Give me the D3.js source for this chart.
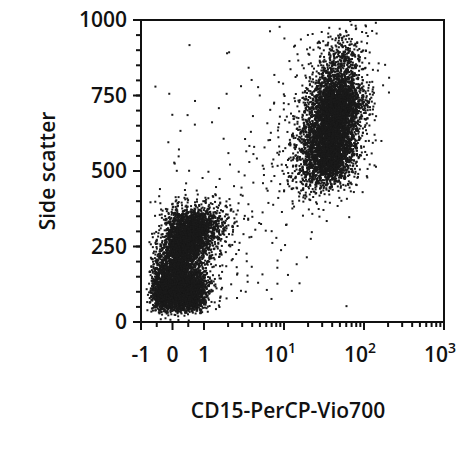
<!DOCTYPE html>
<html lang="en">
<head>
<meta charset="utf-8">
<title>CD15 vs side scatter</title>
<script src="https://d3js.org/d3.v7.min.js"></script>
<style>
  body { margin: 0; background: #fff; }
  text { font-family: "Open Sans", sans-serif; font-weight: 600; fill: #111; }
</style>
</head>
<body>
<script>
// density grid: 20 rows (top = 1000..950) x 20 columns across x range, level 0-9
var densityRows = [
  "00000010010023430000",
  "00100010122456400000",
  "00000010002467510000",
  "00000001123577521000",
  "01000120123688621000",
  "01110101235799720000",
  "00100101235798620000",
  "00110011236898520000",
  "00200122346898510000",
  "01210122346897410000",
  "00111122346776310000",
  "02233222335543100000",
  "04666532222321000000",
  "05898642212110000000",
  "06997532211000000000",
  "07986421111000000000",
  "08975322121000000000",
  "29996322211000000000",
  "49995221100001000000",
  "04530000000000000000"
];
var levelCounts = [0, 1, 2, 3, 8, 18, 40, 100, 220, 450];
var xMajor = [-1, 0, 1, 10, 100, 1000];
var xMinor = [-0.5, 0.5, 2, 3, 4, 5, 6, 7, 8, 9, 20, 30, 40, 50, 60, 70, 80, 90, 200, 300, 400, 500, 600, 700, 800, 900];
var xLabels = [["-1", ""], ["0", ""], ["1", ""], ["10", "1"], ["10", "2"], ["10", "3"]];
var yMajor = [0, 250, 500, 750, 1000];
var yMinor = d3.range(50, 1000, 50);

var W = 474, H = 474;
var pLeft = 141, pRight = 444, pTop = 20, pBottom = 322;

// logicle-like: linear below 1, log above
function f(v) { return v <= 1 ? v : 1 + Math.log10(v) * 80 / 31.5; }
var xT = d3.scaleLinear().domain([f(-1), f(1000)]).range([pLeft, pRight]);
var x = function(v) { return xT(f(v)); };
var y = d3.scaleLinear().domain([0, 1000]).range([pBottom, pTop]);
var col = d3.scaleLinear().domain([0, 20]).range([pLeft, pRight]);
var row = d3.scaleLinear().domain([0, 20]).range([pTop, pBottom]);

function halton(i, b) { var r = 0, fr = 1; while (i > 0) { fr /= b; r += fr * (i % b); i = Math.floor(i / b); } return r; }

var svg = d3.select("body").append("svg").attr("width", W).attr("height", H);

// triangular spread around each cell centre so neighbouring cells blend
var pts = [];
var k = 1;
densityRows.forEach(function(s, r) {
  s.split("").forEach(function(ch, c) {
    var n = levelCounts[+ch];
    for (var i = 0; i < n; i++) {
      var px = c - 0.5 + halton(k, 2) + halton(k, 5);
      var py = r - 0.5 + halton(k, 3) + halton(k, 7);
      if (px > 0.05 && px < 19.95 && py > 0.05 && py < 19.95) pts.push([px, py]);
      k++;
    }
  });
});

svg.append("g").selectAll("rect").data(pts).enter().append("rect")
  .attr("x", function(d) { return col(d[0]) - 1; })
  .attr("y", function(d) { return row(d[1]) - 1; })
  .attr("width", 2).attr("height", 2)
  .attr("fill", "#1a1a1a");

// frame
svg.append("rect").attr("x", pLeft).attr("y", pTop).attr("width", pRight - pLeft).attr("height", pBottom - pTop)
  .attr("fill", "none").attr("stroke", "#111").attr("stroke-width", 2);

var g = svg.append("g").attr("stroke", "#111").attr("stroke-width", 2);
g.selectAll("line.xmaj").data(xMajor).enter().append("line")
  .attr("x1", x).attr("x2", x).attr("y1", pBottom).attr("y2", pBottom + 8);
g.selectAll("line.xmin").data(xMinor).enter().append("line")
  .attr("x1", x).attr("x2", x).attr("y1", pBottom).attr("y2", pBottom + 5);
g.selectAll("line.ymaj").data(yMajor).enter().append("line")
  .attr("y1", y).attr("y2", y).attr("x1", pLeft).attr("x2", pLeft - 8);
g.selectAll("line.ymin").data(yMinor).enter().append("line")
  .attr("y1", y).attr("y2", y).attr("x1", pLeft).attr("x2", pLeft - 5);

svg.selectAll("text.yl").data(yMajor).enter().append("text")
  .attr("x", pLeft - 14).attr("y", function(d) { return y(d) + 7; })
  .attr("text-anchor", "end").attr("font-size", 21).text(function(d) { return d; });

var xl = svg.selectAll("text.xl").data(xMajor).enter().append("text")
  .attr("x", function(d) { return x(d) - (d >= 10 ? 4 : 0); }).attr("y", pBottom + 40)
  .attr("text-anchor", "middle").attr("font-size", 21);
xl.append("tspan").text(function(d, i) { return xLabels[i][0]; });
xl.append("tspan").attr("dy", -9).attr("font-size", 14).text(function(d, i) { return xLabels[i][1]; });

svg.append("text").attr("x", 288).attr("y", 418).attr("text-anchor", "middle")
  .attr("font-size", 21).text("CD15-PerCP-Vio700");
svg.append("text").attr("transform", "translate(55," + (pTop + pBottom) / 2 + ") rotate(-90)")
  .attr("text-anchor", "middle").attr("font-size", 21).text("Side scatter");
</script>
</body>
</html>
